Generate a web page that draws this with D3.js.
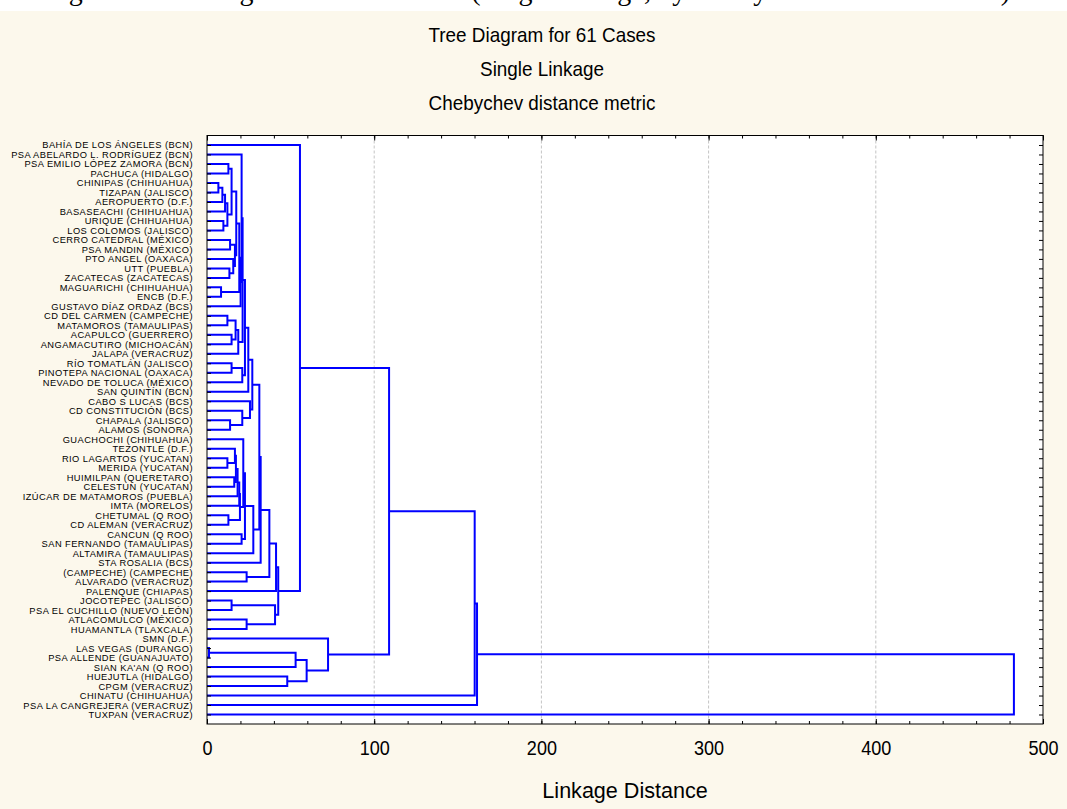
<!DOCTYPE html>
<html lang="es">
<head>
<meta charset="UTF-8">
<title>Tree Diagram for 61 Cases</title>
<script src="https://d3js.org/d3.v7.min.js"></script>
<style>
  body { margin: 0; background: #fcf8ec; }
  svg { display: block; }
  text { font-family: "Liberation Sans", Arial, sans-serif; fill: #000; }
</style>
</head>
<body>
<svg width="1067" height="809"></svg>
<script>
// estaciones, en el orden en que aparecen en el eje vertical
const stations = [
  "BAHÍA DE LOS ÁNGELES (BCN)", "PSA ABELARDO L. RODRÍGUEZ (BCN)", "PSA EMILIO LÓPEZ ZAMORA (BCN)",
  "PACHUCA (HIDALGO)", "CHINIPAS (CHIHUAHUA)", "TIZAPAN (JALISCO)", "AEROPUERTO (D.F.)",
  "BASASEACHI (CHIHUAHUA)", "URIQUE (CHIHUAHUA)", "LOS COLOMOS (JALISCO)", "CERRO CATEDRAL (MÉXICO)",
  "PSA MANDIN (MÉXICO)", "PTO ANGEL (OAXACA)", "UTT (PUEBLA)", "ZACATECAS (ZACATECAS)",
  "MAGUARICHI (CHIHUAHUA)", "ENCB (D.F.)", "GUSTAVO DÍAZ ORDAZ (BCS)", "CD DEL CARMEN (CAMPECHE)",
  "MATAMOROS (TAMAULIPAS)", "ACAPULCO (GUERRERO)", "ANGAMACUTIRO (MICHOACÁN)", "JALAPA (VERACRUZ)",
  "RÍO TOMATLÁN (JALISCO)", "PINOTEPA NACIONAL (OAXACA)", "NEVADO DE TOLUCA (MÉXICO)", "SAN QUINTÍN (BCN)",
  "CABO S LUCAS (BCS)", "CD CONSTITUCIÓN (BCS)", "CHAPALA (JALISCO)", "ALAMOS (SONORA)",
  "GUACHOCHI (CHIHUAHUA)", "TEZONTLE (D.F.)", "RIO LAGARTOS (YUCATAN)", "MERIDA (YUCATAN)",
  "HUIMILPAN (QUERETARO)", "CELESTUN (YUCATAN)", "IZÚCAR DE MATAMOROS (PUEBLA)", "IMTA (MORELOS)",
  "CHETUMAL (Q ROO)", "CD ALEMAN (VERACRUZ)", "CANCUN (Q ROO)", "SAN FERNANDO (TAMAULIPAS)",
  "ALTAMIRA (TAMAULIPAS)", "STA ROSALIA (BCS)", "(CAMPECHE) (CAMPECHE)", "ALVARADO (VERACRUZ)",
  "PALENQUE (CHIAPAS)", "JOCOTEPEC (JALISCO)", "PSA EL CUCHILLO (NUEVO LEÓN)", "ATLACOMULCO (MÉXICO)",
  "HUAMANTLA (TLAXCALA)", "SMN (D.F.)", "LAS VEGAS (DURANGO)", "PSA ALLENDE (GUANAJUATO)",
  "SIAN KA'AN (Q ROO)", "HUEJUTLA (HIDALGO)", "CPGM (VERACRUZ)", "CHINATU (CHIHUAHUA)",
  "PSA LA CANGREJERA (VERACRUZ)", "TUXPAN (VERACRUZ)"
];

// uniones: [nombre, hijo de arriba, hijo de abajo, distancia de enlace]
// un número es una estación (fila), un texto es una unión anterior
const merges = [
  ["a1", 4, 5, 6.8], ["a2", "a1", 6, 9.2], ["a3", "a2", 7, 10.8], ["a4", 8, 9, 9.8],
  ["a5", "a3", "a4", 12.2], ["a6", 2, 3, 12.8], ["a7", "a6", "a5", 14.7],
  ["a8", 10, 11, 13.8], ["a9", 13, 14, 13.4], ["a10", 12, "a9", 15.7], ["a11", "a8", "a10", 16.7],
  ["a12", "a7", "a11", 17.5], ["a13", 15, 16, 8.4], ["a14", "a12", "a13", 19.3],
  ["a15", "a14", 17, 20.1], ["a16", 1, "a15", 20.7],
  ["b1", 18, 19, 12.2], ["b2", 20, 21, 14.7], ["b3", "b1", "b2", 17.1], ["b4", "b3", 22, 18.7],
  ["b5", 23, 24, 14.7], ["b6", "b5", 25, 21.1],
  ["ab1", "a16", "b4", 21.3], ["ab2", "ab1", "b6", 22.7], ["ab3", "ab2", 26, 24.7],
  ["b7", 29, 30, 13.8], ["b8", 28, "b7", 21.1], ["b9", 27, "b8", 25.7], ["ab4", "ab3", "b9", 27.1],
  ["c1", 33, 34, 12.2], ["c2", 32, "c1", 16.7], ["c3", 35, 36, 16.3], ["c4", "c2", "c3", 17.3],
  ["c5", "c4", 37, 18.3], ["c6", "c5", 38, 19.3], ["c7", 39, 40, 12.8], ["c8", "c6", "c7", 19.7],
  ["c9", 31, "c8", 21.7], ["c10", 41, 42, 20.7], ["c11", "c9", "c10", 22.7], ["c12", "c11", 43, 27.7],
  ["v1", "ab4", "c12", 31.3], ["v2", "v1", 44, 32.1], ["d1", 45, 46, 23.7], ["v3", "v2", "d1", 37.3],
  ["v4", "v3", 47, 41.3], ["q1", 48, 49, 14.7], ["q2", 50, 51, 23.7], ["q3", "q1", "q2", 40.7],
  ["v5", "v4", "q3", 42.6], ["w", 0, "v5", 55.6],
  ["e1", 53, 54, 1.2], ["e2", "e1", 55, 53.0], ["e3", 56, 57, 48.0], ["e4", "e2", "e3", 59.6],
  ["e5", 52, "e4", 72.4],
  ["z", "w", "e5", 108.9], ["y", "z", 58, 160.1], ["x", "y", 59, 161.5], ["root", "x", 60, 482.6]
];

const xTicks = [0, 100, 200, 300, 400, 500];
const xMinorTicks = d3.range(0, 501, 20);
const titles = ["Tree Diagram for 61 Cases", "Single Linkage", "Chebychev distance metric"];
const xTitle = "Linkage Distance";
const caption = "Figure 3. Dendrogram of the stations (Single linkage, by Chebychev distance metric)";

const svg = d3.select("svg");
const plot = { left: 207, right: 1043, top: 135.5, bottom: 724 };

// franja blanca superior con el renglón del documento, del que solo asoman los rasgos bajos
svg.append("rect").attr("x", 0).attr("y", 0).attr("width", 1067).attr("height", 11).attr("fill", "#fff");
svg.append("clipPath").attr("id", "capclip")
  .append("rect").attr("x", 0).attr("y", 0).attr("width", 1067).attr("height", 11);
svg.append("text")
  .attr("clip-path", "url(#capclip)")
  .attr("x", 45).attr("y", -0.5)
  .attr("textLength", 965)
  .style("font-family", "'Liberation Serif', 'Times New Roman', serif")
  .style("font-size", "28px")
  .text(caption);

// área del gráfico
svg.append("rect")
  .attr("x", plot.left).attr("y", plot.top)
  .attr("width", plot.right - plot.left).attr("height", plot.bottom - plot.top)
  .attr("fill", "#fff");

const x = d3.scaleLinear().domain([0, 500]).range([plot.left, plot.right]);
const y = d3.scalePoint().domain(d3.range(stations.length)).range([plot.top, plot.bottom]).padding(1);

// rejilla
svg.append("g").selectAll("line")
  .data(xTicks.filter(d => d > 0 && d < 500))
  .join("line")
  .attr("x1", d => x(d)).attr("x2", d => x(d))
  .attr("y1", plot.top).attr("y2", plot.bottom)
  .attr("stroke", "#c4c4c4").attr("stroke-dasharray", "3,2");

// títulos
const cx = 542;
titles.forEach((t, i) => {
  svg.append("text")
    .attr("transform", `translate(${cx},${36 + i * 34}) scale(0.9,1)`)
    .attr("text-anchor", "middle").attr("dominant-baseline", "middle")
    .style("font-size", "21px")
    .text(t);
});

// dendrograma
const pos = {};
const lines = svg.append("g").attr("fill", "none").attr("stroke", "#0000ff").attr("stroke-width", 2);
const node = k => typeof k === "number" ? { y: y(k), d: 0 } : pos[k];
merges.forEach(([name, a, b, dist]) => {
  const na = node(a), nb = node(b);
  const path = d3.path();
  path.moveTo(x(na.d), na.y);
  path.lineTo(x(dist), na.y);
  path.lineTo(x(dist), nb.y);
  path.lineTo(x(nb.d), nb.y);
  lines.append("path").attr("d", path.toString());
  pos[name] = { y: (na.y + nb.y) / 2, d: dist };
});

// ejes
const axisStyle = g => { g.select(".domain").remove(); g.selectAll("line").attr("stroke", "#000"); };

svg.append("g")
  .attr("transform", `translate(${plot.left},0)`)
  .call(d3.axisLeft(y).tickFormat(i => stations[i]).tickSizeInner(-4).tickSizeOuter(0).tickPadding(14))
  .call(axisStyle)
  .call(g => g.selectAll("text")
    .style("font-size", "9.3px").style("letter-spacing", "0.45px")
    .attr("font-family", null));

svg.append("g")
  .attr("transform", `translate(${plot.right},0)`)
  .call(d3.axisRight(y).tickFormat("").tickSizeInner(-4).tickSizeOuter(0))
  .call(axisStyle);

svg.append("g")
  .attr("transform", `translate(0,${plot.bottom})`)
  .call(d3.axisBottom(x).tickValues(xMinorTicks).tickFormat("").tickSizeInner(-3).tickSizeOuter(0))
  .call(axisStyle);

svg.append("g")
  .attr("transform", `translate(0,${plot.top})`)
  .call(d3.axisTop(x).tickValues(xMinorTicks).tickFormat("").tickSizeInner(-3).tickSizeOuter(0))
  .call(axisStyle);

const bottom = svg.append("g")
  .attr("transform", `translate(0,${plot.bottom})`)
  .call(d3.axisBottom(x).tickValues(xTicks).tickSizeInner(-5).tickSizeOuter(0).tickPadding(16))
  .call(axisStyle);
bottom.selectAll("text")
  .attr("font-family", null)
  .style("font-size", "21px")
  .attr("transform", "scale(0.86,1)");

svg.append("g")
  .attr("transform", `translate(0,${plot.top})`)
  .call(d3.axisTop(x).tickValues(xTicks).tickFormat("").tickSizeInner(-5).tickSizeOuter(0))
  .call(axisStyle);

svg.append("text")
  .attr("transform", `translate(${(plot.left + plot.right) / 2},${792}) scale(0.98,1)`)
  .attr("text-anchor", "middle").attr("dominant-baseline", "middle")
  .style("font-size", "22px")
  .text(xTitle);

// marco
svg.append("rect")
  .attr("x", plot.left).attr("y", plot.top)
  .attr("width", plot.right - plot.left).attr("height", plot.bottom - plot.top)
  .attr("fill", "none").attr("stroke", "#000");
</script>
</body>
</html>
